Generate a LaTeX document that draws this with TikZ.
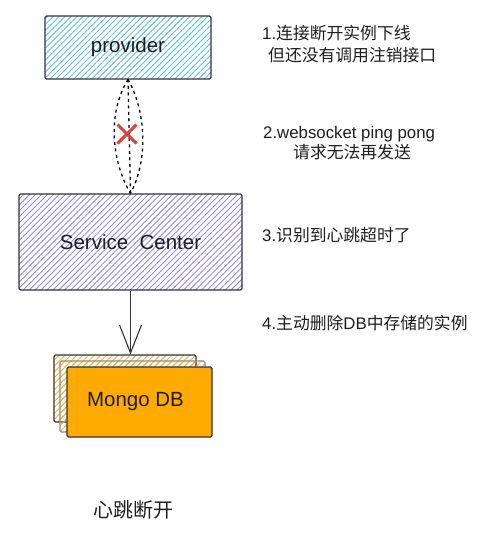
\documentclass[tikz,border=0pt]{standalone}
\usepackage{fontspec}
\setmainfont{Liberation Sans}
\newfontfamily\cjk{Noto Sans CJK SC}
\usetikzlibrary{patterns.meta,arrows.meta,shapes.misc}
\definecolor{txt}{HTML}{1E1E1E}
\definecolor{edge}{HTML}{333333}
\definecolor{provhatch}{HTML}{5EC4DE}
\definecolor{schatch}{HTML}{948CF0}
\definecolor{mongo}{HTML}{FFAA00}
\definecolor{mongohatch}{HTML}{F5B431}
\definecolor{xred}{HTML}{D64545}
\tikzset{
  box/.style={draw=edge, line width=1.1pt, rounded corners=1.5pt, inner sep=0pt,
    font=\fontsize{20.5}{24}\selectfont, text=txt},
  hatch/.style={pattern color=#1, pattern={Lines[angle=45,distance=4.2pt,line width=0.9pt]}},
  note/.style={anchor=base west, inner sep=0pt, text=txt, font=\fontsize{16.8}{20}\selectfont},
  dsh/.style={draw=black, line width=1.3pt, dash pattern=on 3pt off 3.5pt},
}
\begin{document}
\begin{tikzpicture}[x=1pt,y=-1pt]
\fill[white] (0,0) rectangle (493,533);
\useasboundingbox (0,0) rectangle (493,533);

% provider
\node[box, hatch=provhatch, minimum width=166pt, minimum height=63pt] (prov) at (128,47.5) {provider};
% service center
\node[box, hatch=schatch, minimum width=223pt, minimum height=96pt] (sc) at (130.5,242) {Service\ \ Center};

% dashed links
\draw[dsh] (prov.south) -- (sc.north);
\draw[dsh] (prov.south) .. controls +(-20,32) and +(-20,-34) .. (sc.north);
\draw[dsh] (prov.south) .. controls +(18,32) and +(18,-34) .. (sc.north);
\node[cross out, draw=xred, line width=3pt, minimum width=16pt, minimum height=16pt, inner sep=0pt] (xx) at (127,134) {};

% mongo stack
\node[box, fill=white, hatch=mongohatch, minimum width=142pt, minimum height=67pt] (back) at (125,388.5) {};
\node[box, draw=black!45, fill=white, hatch=mongohatch, minimum width=145pt, minimum height=71pt] (mid) at (132.5,396.5) {};
\node[box, fill=mongo, minimum width=145pt, minimum height=70pt] (front) at (139.5,402) {\hspace*{-8pt}Mongo DB};

% arrow
\draw[draw=edge, line width=1.1pt, -{Straight Barb[length=28pt,width=22pt,line width=1.1pt]}] (sc.south) -- (sc.south |- back.north);

% notes
\node[note] (n1a) at (262,39) {1.{\cjk 连接断开实例下线}};
\node[note] (n1b) at (268,61) {{\cjk 但还没有调用注销接口}};
\node[note] (n2a) at (263,138) {2.websocket ping pong};
\node[note] (n2b) at (293,158) {{\cjk 请求无法再发送}};
\node[note] (n3) at (262,241) {3.{\cjk 识别到心跳超时了}};
\node[note] (n4) at (262,329) {4.{\cjk 主动删除}DB{\cjk 中存储的实例}};

\node[inner sep=0pt, text=txt, font=\fontsize{20}{24}\selectfont\cjk] (cap) at (133.5,510) {心跳断开};
\end{tikzpicture}
\end{document}
